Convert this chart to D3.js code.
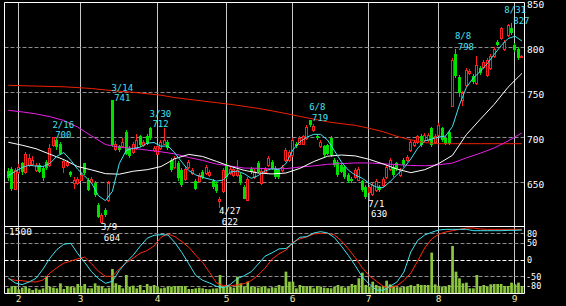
<!DOCTYPE html>
<html><head><meta charset="utf-8">
<script src="https://cdn.jsdelivr.net/npm/d3@7"></script>
<style>html,body{margin:0;padding:0;background:#000;}svg{display:block}</style>
</head><body>
<svg id="c" width="566" height="306"></svg>
<script>
// ---- data (daily candles, index 0 = 2022-01-27 ... 148 = 2022-09-05) ----
const openP = [663,665,643,661,671,661,669,670,664,669, 666,673,669,691,697,693,667,669,661,649,
 649,653,671,653,650,649,625,606,619,630, 741,687,690,690,706,688,684,688,702,691,
 702,710,686,682,688,693,695,675,667,672, 664,654,667,660,652,651,662,660,658,652,
 648,629,640,669,660,658,658,658,645,630, 665,656,672,649,662,669,673,666,664,664,
 675,675,680,693,693,693,699,719,708,702, 690,690,691,699,675,673,669,667,658,654,
 656,653,651,645,639,637,641,645,647,656, 665,667,671,658,675,675,686,691,695,702,
 697,697,710,695,703,710,699,706,735,793, 767,741,758,771,768,760,777,778,769,777,
 790,806,810,798,814,821,803,798,789];
const closeP = [655,643,664,667,661,682,677,675,669,662, 655,666,688,700,689,682,674,673,658,653,
 654,658,660,641,654,636,612,614,614,649, 691,693,686,695,682,679,693,697,691,695,
 693,699,688,690,695,697,688,664,677,655, 647,665,673,664,643,658,656,667,662,645,
 640,631,664,656,665,665,664,649,632,654, 661,663,662,663,665,677,666,656,656,667,
 686,684,697,690,699,701,712,714,713,699, 695,680,682,680,669,658,662,656,651,651,
 664,665,641,634,645,647,652,641,654,667, 675,658,665,664,669,678,695,695,701,691,
 703,703,691,702,714,697,693,693,786,768, 749,749,775,774,761,780,771,784,786,790,
 798,803,821,806,825,816,797,788,790];
const highP = [666,667,666,670,673,684,681,679,671,671, 668,675,693,700,699,695,676,675,663,656,
 656,660,672,655,656,651,627,616,621,651, 741,696,692,699,708,690,695,704,703,697,
 704,712,690,692,697,710,697,677,679,674, 666,667,675,666,654,660,664,669,664,654,
 650,634,666,671,667,667,675,660,647,656, 667,665,674,665,667,679,675,668,666,669,
 688,686,699,695,701,703,714,719,715,704, 697,692,693,701,677,675,671,669,660,656,
 666,667,653,647,647,649,654,647,656,669, 677,669,673,666,677,680,697,697,703,704,
 705,705,712,704,716,712,701,708,788,798, 769,752,777,776,770,790,779,786,788,792,
 800,808,823,808,826,827,805,800,791];
const lowP = [652,640,641,659,658,659,667,668,661,660, 652,664,667,689,686,680,660,667,656,643,
 647,651,658,640,648,634,610,604,612,628, 689,685,684,688,680,677,682,686,689,689,
 691,697,684,680,686,691,686,662,665,652, 645,652,665,658,641,649,654,658,656,643,
 638,622,638,654,658,656,656,647,631,631, 659,654,660,647,660,667,664,654,654,662,
 673,673,678,688,691,691,697,712,706,697, 688,678,680,678,667,656,660,654,649,649,
 654,651,639,632,630,635,639,639,645,654, 663,656,663,656,667,673,684,689,693,689,
 695,695,689,693,701,695,691,691,734,766, 745,735,756,769,759,758,769,776,767,775,
 788,801,808,796,812,814,795,786,788];
const volume = [105,142,157,82,120,142,105,67,105,75, 105,381,142,120,105,217,90,157,142,127,
 202,157,202,105,105,217,164,142,105,120, 538,217,179,105,403,142,164,105,179,67,
 202,142,179,142,105,120,142,142,157,157, 157,157,90,90,105,120,105,90,82,100,
 105,403,142,179,142,120,366,217,150,254, 142,142,120,142,142,105,130,120,179,142,
 478,254,254,105,179,157,140,157,105,157, 142,120,110,105,142,179,142,120,142,202,
 179,329,456,179,142,254,179,142,160,276, 194,164,130,127,142,142,179,157,202,179,
 179,179,904,194,160,142,142,179,1053,478, 329,217,232,105,105,403,142,179,142,194,
 202,202,202,157,157,232,194,232,157];

// moving averages (ma5 every 2 days, others every 4 days)
const ma5 = [657.5,662,666.5,669,668,667.5,671,679,683,674.5,664.5,657,649,635,629.6,640,671,685.5,687.7,689,
 693.5,694.2,690,690.5,682.5,672.5,663,658.2,655.5,653.5,651.3,652.6,661.5,662.5,659.5,654.4,657.4,662.7,665,664.2,
 670.8,686,694.9,700.1,703.3,703.2,697,685,672.5,663.5,658,654.5,648.9,644.8,644,650.7,658.4,666,676,688,
 696,698,700.3,701.4,712,736,755.5,766,773.2,781.7,792,801.8,809.7,812.3,807];
const ma25 = [694.5,691.2,687.3,681.2,675.2,667.5,663.8,659.6,659,662.3,664,667.5,676.2,681,678.7,673.2,667.7,663.3,660.3,
 659.3,660.3,665.4,673,679,680.3,679.3,675.5,670.4,664.7,660.7,664,670.7,680,703,720,736.5,755.6,771];
const ma75 = [730,728.2,726,722.9,718.7,711.3,701.5,692,688.9,687.7,685.8,683.9,681.5,677.6,674.3,670.2,668.1,665.8,665.5,
 665,665.2,666.9,668.2,670,670.8,671.5,671.5,670.5,669.7,668.7,668.4,669.4,671.4,677.1,682.3,688.1,695.9,704.9];
const ma200 = [757.8,757.3,756.9,756.5,756.1,755.2,754.2,752.6,751.2,750,748.4,746.8,744.1,742.2,740.3,738.5,736.6,734.4,732.1,
 729.4,726.4,723.2,720.2,717.2,715.1,713.3,710,706.2,701,697.2,694.1,692.9,692.9,692.9,692.9,692.9,692.9,692.9];

// RCI lines (every 2 days)
const rciShort = [-55,-70,-75,-67,-56,-28,5,31,47,50, 19,-8,-36,-57,-71,-65,-32,-7,14,41,
 65,74,76,75,52,22,-12,-47,-62,-70, -80,-85,-74,-57,-48,-36,-13,11,21,33,
 34,50,68,70,81,85,81,67,41,13, -18,-52,-73,-91,-92,-80,-67,-37,24,59,
 75,83,90,92,92,92,92,88,88,88, 88,88,89,89,90];
const rciLong = [-57,-62,-63,-66,-67,-61,-40,-24,-10,-4, 3,8,-12,-35,-50,-50,-27,-9,5,20,
 28,42,68,78,70,55,38,14,-8,-38, -70,-78,-78,-76,-72,-63,-46,-25,2,18,
 29,53,63,69,78,80,80,75,57,33, 6,-24,-48,-64,-80,-85,-78,-63,-40,-3,
 36,63,77,84,88,92,96,96,93,92, 92,92,92,92,92];

const monthLabels = ["2","3","4","5","6","7","8","9"];
const monthStart = [3,21,43,63,82,104,124,146];
const markDates = ["2/16","3/9","3/14","3/30","4/27","6/8","7/1","8/8","8/31"];
const markIdx   = [13,27,30,41,61,87,104,129,145];
const markKind  = ["high","low","high","high","low","high","low","high","high"];
const priceTicks = [650,700,750,800,850];
const rciTicks = [80,50,0,-50,-80];
const volTopLabel = "1500";

// ---- drawing ----
const svg = d3.select('#c');
const W = 566, H = 306;
const L = 4.5, R = 524.5, T = 2.5, M = 226.5, B = 293.5;
svg.append('rect').attr('width', W).attr('height', H).attr('fill', '#000');

const x = d3.scaleLinear().domain([0, 148]).range([8.3, 521.9]);
const y = d3.scaleLinear().domain([600, 850]).range([227.3, 2.3]);
const yr = d3.scaleLinear().domain([-100, 100]).range([292.9, 226.7]);
const yv = d3.scaleLinear().domain([0, 1500]).range([293, 226]);

const defs = svg.append('defs');
defs.append('clipPath').attr('id', 'cm').append('rect')
  .attr('x', L).attr('y', T).attr('width', R - L).attr('height', M - T);
defs.append('clipPath').attr('id', 'cs').append('rect')
  .attr('x', L).attr('y', M).attr('width', R - L).attr('height', B - M);

const FONT = "'DejaVu Sans Mono', monospace";

// vertical month grid
svg.append('g').selectAll('line').data(monthStart).join('line')
  .attr('x1', d => Math.round(x(d) - 1) + 0.5).attr('x2', d => Math.round(x(d) - 1) + 0.5)
  .attr('y1', T).attr('y2', B).attr('stroke', '#c8c8c8').attr('stroke-width', 1);

// horizontal dashed grid (main)
svg.append('g').selectAll('line').data(priceTicks.filter(v => v < 850)).join('line')
  .attr('x1', L).attr('x2', R)
  .attr('y1', d => Math.round(y(d)) + 0.5).attr('y2', d => Math.round(y(d)) + 0.5)
  .attr('stroke', '#8c8c8c').attr('stroke-dasharray', '4,2');

// sub-panel dashed grid
svg.append('g').selectAll('line').data(rciTicks).join('line')
  .attr('x1', L).attr('x2', R)
  .attr('y1', d => Math.round(yr(d)) + 0.5).attr('y2', d => Math.round(yr(d)) + 0.5)
  .attr('stroke', d => d === 0 ? '#ffffff' : '#8c8c8c').attr('stroke-dasharray', '4,2');

// volume bars
svg.append('g').attr('clip-path', 'url(#cs)').selectAll('rect').data(volume).join('rect')
  .attr('x', (d, i) => x(i) - 1.3).attr('width', 2.7)
  .attr('y', d => yv(d)).attr('height', d => yv(0) - yv(d))
  .attr('fill', '#8cc63f');

// RCI lines
const rciLine = d3.line().x((d, j) => x(j * 2)).y(d => yr(d));
const sub = svg.append('g').attr('clip-path', 'url(#cs)');
sub.append('path').attr('d', rciLine(rciLong)).attr('fill', 'none').attr('stroke', '#ff2a10').attr('stroke-width', 1);
sub.append('path').attr('d', rciLine(rciShort)).attr('fill', 'none').attr('stroke', '#40e4f0').attr('stroke-width', 1);

// candles
const main = svg.append('g').attr('clip-path', 'url(#cm)');
const idx = d3.range(closeP.length);
idx.forEach(i => {
  const px = Math.floor(x(i));
  const up = closeP[i] >= openP[i];
  const top = Math.round(y(Math.max(openP[i], closeP[i])));
  const bot = Math.round(y(Math.min(openP[i], closeP[i])));
  const yh = Math.round(y(highP[i])), yl = Math.round(y(lowP[i]));
  const col = up ? '#ff2020' : '#00e000';
  if (up) {
    if (yh < top) main.append('line').attr('x1', px + 0.5).attr('x2', px + 0.5).attr('y1', yh).attr('y2', top).attr('stroke', col);
    if (yl > bot) main.append('line').attr('x1', px + 0.5).attr('x2', px + 0.5).attr('y1', bot).attr('y2', yl).attr('stroke', col);
    main.append('rect').attr('x', px - 0.5).attr('y', top + 0.5).attr('width', 2)
      .attr('height', Math.max(1, bot - top)).attr('fill', '#000').attr('stroke', col).attr('stroke-width', 1);
  } else {
    main.append('line').attr('x1', px + 0.5).attr('x2', px + 0.5).attr('y1', yh).attr('y2', yl).attr('stroke', col);
    main.append('rect').attr('x', px - 1).attr('y', top).attr('width', 3)
      .attr('height', Math.max(1, bot - top)).attr('fill', col);
  }
});

// moving average lines
const maLine = step => d3.line().x((d, j) => x(j * step)).y(d => y(d));
main.append('path').attr('d', maLine(4)(ma200)).attr('fill', 'none').attr('stroke', '#f02000').attr('stroke-width', 1);
main.append('path').attr('d', maLine(4)(ma75)).attr('fill', 'none').attr('stroke', '#e820e8').attr('stroke-width', 1);
main.append('path').attr('d', maLine(4)(ma25)).attr('fill', 'none').attr('stroke', '#ffffff').attr('stroke-width', 1);
main.append('path').attr('d', maLine(2)(ma5)).attr('fill', 'none').attr('stroke', '#40e4f0').attr('stroke-width', 1);

// frame
const frame = svg.append('g').attr('stroke', '#ffffff').attr('stroke-width', 1);
[[L, T, R, T], [L, M, R, M], [L, B, R, B], [L, T, L, B], [R, T, R, B]].forEach(s =>
  frame.append('line').attr('x1', s[0]).attr('y1', s[1]).attr('x2', s[2]).attr('y2', s[3]));

// high / low annotations (date over value)
const ann = svg.append('g').attr('font-family', FONT).attr('font-size', '9px');
markIdx.forEach((i, k) => {
  const hi = markKind[k] === 'high';
  const v = hi ? highP[i] : lowP[i];
  const yy = y(v);
  const col = hi ? '#40e0f0' : '#ffffff';
  const y1 = hi ? yy - 9.8 : yy + 6.5;
  const y2 = hi ? yy + 0.8 : yy + 17.1;
  const t1 = ann.append('text').attr('fill', col).attr('x', x(i) - 1).attr('y', y1).text(markDates[k]);
  // keep the date clear of the right-hand axis labels
  const w1 = t1.node().getComputedTextLength();
  const over = (x(i) - 1 + w1) - (R + 1.5);
  if (over > 0) t1.attr('x', x(i) - 1 - over);
  ann.append('text').attr('fill', col).attr('x', x(i) + 1.8).attr('y', y2).text(String(v));
});

// right axis labels
const ax = svg.append('g').attr('font-family', FONT).attr('fill', '#ffffff');
ax.selectAll('text.p').data(priceTicks).join('text').attr('class', 'p').attr('font-size', '9.5px')
  .attr('x', 527).attr('y', d => y(d) + 5.5).text(d => d);
ax.selectAll('text.r').data(rciTicks).join('text').attr('class', 'r').attr('font-size', '8.5px')
  .attr('x', d => d < 0 ? 526 : 527).attr('y', d => yr(d) + 3.2).text(d => d);
ax.append('text').attr('font-size', '9.5px').attr('x', 9).attr('y', 235).text(volTopLabel);

// month labels
svg.append('g').attr('font-family', FONT).attr('font-size', '9.5px').attr('fill', '#f0eca8')
  .attr('text-anchor', 'middle')
  .selectAll('text').data(monthStart).join('text')
  .attr('x', d => Math.round(x(d) - 1) + 0.5).attr('y', 302)
  .text((d, k) => monthLabels[k]);
</script>
</body></html>
